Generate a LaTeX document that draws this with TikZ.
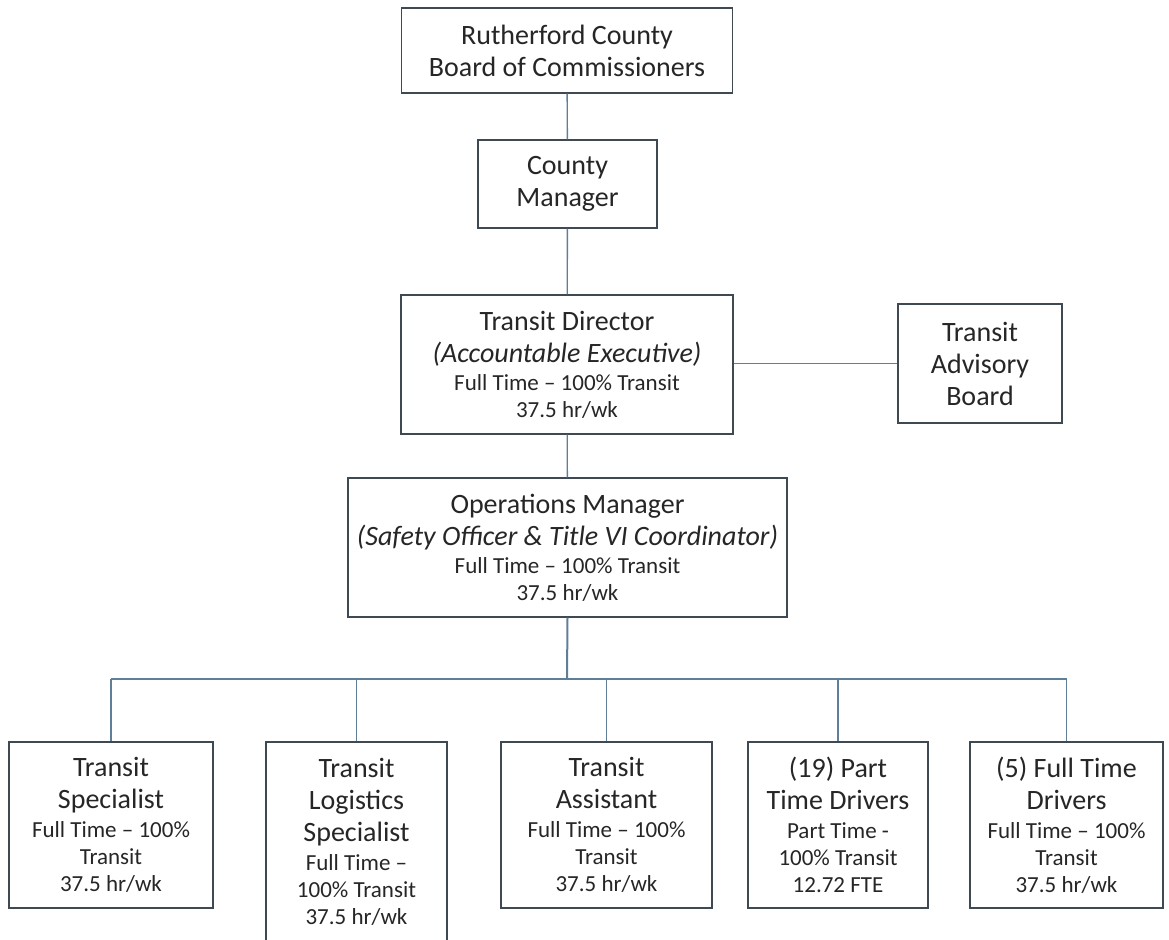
\documentclass[tikz,border=0pt]{standalone}
\usepackage{fontspec}
\setmainfont{Carlito}
\usetikzlibrary{calc}

\definecolor{boxline}{HTML}{3E4954}
\definecolor{conline}{HTML}{5F7E98}
\definecolor{txt}{HTML}{262626}
\newcommand\BIG{\fontsize{28}{32}\selectfont}
\newcommand\SML{\fontsize{23}{27}\selectfont}

\begin{document}
\begin{tikzpicture}[
x=1pt, y=-1pt,
    BX/.style = {draw=boxline, line width=1.3pt, fill=white,
                 text=txt, align=center, inner sep=0pt,
                 font=\BIG},
    CN/.style = {draw=conline, line width=1.4pt},
                        ]
\useasboundingbox (0,0) rectangle (1169,939);
% upper chain
\node[BX, minimum width=331, minimum height=85] (board) at (567,50.5)
    {Rutherford County\\ Board of Commissioners};
\node[BX, minimum width=179, minimum height=88] (cmgr) at (567.5,184)
    {County\\ Manager};
\node[BX, minimum width=332, minimum height=139] (tdir) at (567,364.5)
    {Transit Director\\ \textit{(Accountable Executive)}\\[-4pt]
     \SML Full Time -- 100\% Transit\\[-5pt] \SML 37.5 hr/wk};
\node[BX, minimum width=164, minimum height=119] (tab) at (980,363.5)
    {Transit\\ Advisory\\ Board};
\node[BX, minimum width=439, minimum height=139] (opsm) at (567.5,547.5)
    {Operations Manager\\ \textit{(Safety Officer \& Title VI Coordinator)}\\[-4pt]
     \SML Full Time -- 100\% Transit\\[-5pt] \SML 37.5 hr/wk};
% staff row
\node[BX, minimum width=204, minimum height=166] (ts) at (111,825)
    {Transit\\ Specialist\\[-3pt] \SML Full Time -- 100\%\\[-5pt] \SML Transit\\[-5pt] \SML 37.5 hr/wk};
\node[BX, minimum width=181, minimum height=200] (tls) at (356.5,842)
    {Transit\\ Logistics\\ Specialist\\[-3pt] \SML Full Time --\\[-5pt] \SML 100\% Transit\\[-5pt] \SML 37.5 hr/wk};
\node[BX, minimum width=211, minimum height=166] (ta) at (606.5,825)
    {Transit\\ Assistant\\[-3pt] \SML Full Time -- 100\%\\[-5pt] \SML Transit\\[-5pt] \SML 37.5 hr/wk};
\node[BX, minimum width=180, minimum height=166] (ptd) at (838,825)
    {(19) Part\\ Time Drivers\\[-3pt] \SML Part Time -\\[-5pt] \SML 100\% Transit\\[-5pt] \SML 12.72 FTE};
\node[BX, minimum width=193, minimum height=166] (ftd) at (1066.5,825)
    {(5) Full Time\\ Drivers\\[-3pt] \SML Full Time -- 100\%\\[-5pt] \SML Transit\\[-5pt] \SML 37.5 hr/wk};
\coordinate (bus) at (567,679);
%
\draw[CN]   (board) -- (cmgr);
\draw[CN]   (cmgr) -- (tdir);
\draw[CN]   (tdir.east |- tab.west) -- (tab.west);
\draw[CN]   (tdir) -- (opsm);
\draw[CN, line width=2pt]   (opsm.south) -- (bus);
\draw[CN]   (bus -| ts.north) -- (bus -| ftd.north);
\foreach \n in {ts,tls,ta,ptd,ftd}
    \draw[CN]   (bus -| \n.north) -- (\n.north);
    \end{tikzpicture}
\end{document}
